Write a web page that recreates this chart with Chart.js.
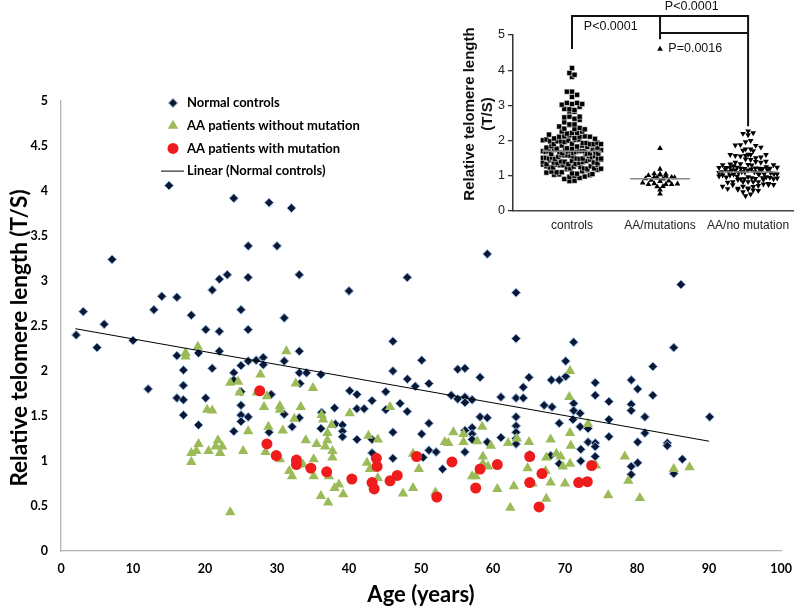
<!DOCTYPE html>
<html>
<head>
<meta charset="utf-8">
<script src="https://cdn.jsdelivr.net/npm/chart.js"></script>
<style>
  html, body { margin: 0; padding: 0; background: #fff; }
  #wrap { position: relative; width: 810px; height: 608px; }
  #main { position: absolute; left: 0; top: 0; }
  #inset { position: absolute; left: 430px; top: 0; }
</style>
</head>
<body>
<div id="wrap">
  <canvas id="main" width="810" height="608"></canvas>
  <canvas id="inset" width="380" height="240"></canvas>
</div>
<script>
// ---- data ----
const controlAge = [2.1,3.1,5.0,6.0,7.1,10.0,12.1,12.9,14.0,15.0,16.1,16.1,16.1,17.0,17.0,17.0,17.0,18.1,19.1,19.1,
  20.1,20.1,21.0,21.0,22.0,22.0,22.0,23.1,24.0,24.0,24.0,24.0,25.0,25.0,25.0,25.0,25.0,25.0,26.0,26.0,
  26.0,26.0,26.0,27.1,28.1,28.1,28.9,28.9,29.2,30.0,31.0,31.0,31.0,32.0,32.1,33.1,33.1,33.1,33.2,33.1,
  34.1,36.1,36.2,36.1,38.0,38.1,39.1,39.1,39.1,40.0,40.1,41.1,41.1,41.1,42.1,43.2,43.2,43.2,45.1,45.1,
  46.1,46.1,46.1,46.1,47.1,48.1,48.1,48.1,49.2,50.1,50.1,50.3,51.1,51.1,51.1,52.1,53.0,54.2,55.1,55.1,
  56.1,56.1,56.1,56.1,56.1,57.1,57.1,57.1,57.1,58.2,58.2,59.2,59.2,59.2,61.1,61.1,63.2,63.2,63.2,63.2,
  63.2,63.2,63.2,63.2,64.2,64.2,65.0,65.1,67.1,68.1,68.2,68.0,69.2,69.2,69.2,70.1,70.1,71.2,71.2,71.2,
  71.1,72.1,72.1,72.2,72.2,73.2,73.2,74.2,74.2,74.2,74.2,74.2,76.1,76.1,76.1,79.2,79.2,79.2,79.2,79.2,
  80.1,80.1,80.1,81.1,81.1,82.2,82.2,84.2,84.2,85.1,85.1,86.1,86.3,90.1];
const controlTL = [2.40,2.66,2.26,2.52,3.24,2.34,1.80,2.68,2.83,4.06,2.82,2.17,1.70,2.01,1.84,1.68,1.51,2.62,2.20,1.40,
  2.46,1.70,2.90,2.03,3.02,2.44,2.22,3.07,3.92,1.98,1.90,1.33,2.68,2.06,1.77,1.62,1.51,1.44,3.39,3.04,
  2.46,2.11,1.49,2.12,2.15,2.07,3.87,1.32,1.74,3.39,2.59,2.11,1.52,3.81,1.38,3.07,2.22,1.98,1.86,1.48,
  1.98,1.96,1.54,1.36,1.59,1.41,1.40,1.33,1.27,2.89,1.78,1.74,1.58,1.24,1.58,1.67,1.24,1.09,1.77,1.57,
  2.33,2.00,1.32,1.03,1.64,3.04,1.91,1.55,1.83,2.12,1.30,1.04,1.86,1.42,1.12,1.10,0.91,1.73,2.02,1.69,
  2.03,1.71,1.65,1.34,1.10,1.68,1.37,1.30,1.24,1.93,1.49,3.30,1.48,1.21,1.71,1.26,2.87,2.36,1.70,1.49,
  1.39,1.32,1.25,1.19,1.82,1.70,1.93,1.07,1.62,1.90,1.60,1.06,1.90,1.42,0.97,2.11,1.94,2.32,1.64,1.56,
  1.46,1.53,1.38,1.13,1.00,1.36,1.21,1.87,1.73,1.20,1.16,1.05,1.66,1.46,1.27,1.90,1.63,1.56,0.94,0.85,
  1.80,1.21,0.98,1.49,1.31,2.05,1.73,1.20,1.17,2.26,0.86,2.96,1.02,1.49];

const noMutAge = [17.3,17.3,19.0,23.5,24.6,24.8,27.7,27.2,28.6,28.2,20.3,21.0,26.0,28.8,18.1,18.8,19.1,18.1,20.5,21.8,
  21.5,22.4,22.1,25.3,28.4,23.5,31.3,32.6,35.0,30.4,30.4,33.3,30.8,32.4,36.2,36.4,37.6,37.0,37.0,36.7,
  40.1,45.7,34.0,35.5,30.4,33.6,35.1,37.7,37.7,42.7,44.0,42.5,42.9,44.0,32.1,31.7,35.1,37.2,36.1,37.1,
  38.0,39.2,38.6,48.9,49.7,47.5,48.9,52.0,53.3,53.8,54.5,55.9,58.5,57.8,55.9,59.7,58.6,58.6,59.3,57.1,
  57.6,60.6,62.4,62.9,64.8,62.1,63.3,65.0,70.7,70.6,73.2,70.7,68.0,70.8,67.4,68.8,69.4,69.7,70.7,67.3,
  68.0,70.0,74.3,78.3,78.8,76.0,85.1,87.3,80.4,65.5,67.4];
const noMutTL = [2.20,2.16,2.27,1.87,1.88,1.76,1.96,1.76,1.72,1.60,1.57,1.56,1.33,1.38,1.09,1.11,1.19,0.99,1.11,1.23,
  1.16,1.16,1.09,1.11,1.10,0.43,2.22,1.86,1.81,1.61,1.57,1.60,1.34,1.47,1.51,1.46,1.40,1.31,1.23,1.16,
  1.53,1.60,1.23,1.19,1.02,0.96,1.02,1.11,1.04,1.28,1.24,0.98,0.91,0.81,0.83,0.89,0.83,0.83,0.61,0.54,
  0.70,0.63,0.74,1.08,0.91,0.64,0.70,0.65,1.21,1.20,1.32,1.30,1.38,1.22,1.21,1.17,1.05,0.97,0.94,0.83,
  0.83,0.69,0.48,0.72,0.92,1.20,1.25,1.21,2.00,1.71,1.41,1.31,1.24,1.17,1.04,1.08,1.05,0.94,0.97,0.89,
  0.76,0.75,0.95,1.05,0.78,0.62,0.91,0.93,0.59,0.75,0.58];

const mutAge = [27.6,28.6,29.9,32.7,32.7,34.7,36.9,40.4,43.2,43.5,43.8,43.9,45.7,46.7,49.4,52.2,54.3,58.2,57.6,60.6,
  65.1,65.1,66.8,73.7,71.9,73.1,66.4];
const mutTL = [1.78,1.19,1.06,1.01,0.96,0.92,0.88,0.80,0.76,0.69,1.03,0.94,0.78,0.84,1.05,0.60,0.99,0.91,0.70,0.96,
  1.05,0.76,0.86,0.95,0.76,0.77,0.49];
// one mutation carrier appears only in the inset (no age given)
const mutExtraTL = [4.6];

// Excel linear trendline of the controls, read at its two ends
const trendAge = [2, 90];
const trendTL = [2.47, 1.22];

const xTicks = { min: 0, max: 100, step: 10 };
const yTicks = { min: 0, max: 5, step: 0.5 };

// inset
const groupNames = ['controls', 'AA/mutations', 'AA/no mutation'];
const pTexts = ['P<0.0001', 'P<0.0001', 'P=0.0016'];

// ---------------------------------------------------------------

const toPts = (xs, ys) => xs.map((x, i) => ({ x: x, y: ys[i] }));

const legendItems = [
  { text: 'Normal controls', kind: 'diamond' },
  { text: 'AA patients without mutation', kind: 'triangle' },
  { text: 'AA patients with mutation', kind: 'circle' },
  { text: 'Linear (Normal controls)', kind: 'line' }
];

const NAVY = '#0b1833';
const GREEN = '#9bbb59';
const RED = '#ee1c1c';

const mainLegend = {
  id: 'mainLegend',
  afterDraw(chart) {
    const ctx = chart.ctx;
    ctx.save();
    ctx.font = 'bold 13px Lato';
    ctx.textBaseline = 'middle';
    legendItems.forEach((it, i) => {
      const y = 103 + i * 22.7;
      const x = 173;
      ctx.beginPath();
      if (it.kind === 'diamond') {
        ctx.moveTo(x, y - 4.5); ctx.lineTo(x + 4.5, y); ctx.lineTo(x, y + 4.5); ctx.lineTo(x - 4.5, y); ctx.closePath();
        ctx.fillStyle = NAVY; ctx.fill();
        ctx.strokeStyle = '#8fb3e0'; ctx.lineWidth = 1; ctx.stroke();
      } else if (it.kind === 'triangle') {
        ctx.moveTo(x, y - 6); ctx.lineTo(x + 5.2, y + 3); ctx.lineTo(x - 5.2, y + 3); ctx.closePath();
        ctx.fillStyle = GREEN; ctx.fill();
      } else if (it.kind === 'circle') {
        ctx.arc(x, y, 5.5, 0, Math.PI * 2);
        ctx.fillStyle = RED; ctx.fill();
      } else {
        ctx.moveTo(161, y); ctx.lineTo(184, y);
        ctx.strokeStyle = '#000'; ctx.lineWidth = 1; ctx.stroke();
      }
      ctx.fillStyle = '#000';
      ctx.fillText(it.text, 187, y);
    });
    // y axis title, centred a little below the middle of the axis as in the figure
    ctx.translate(20, 338);
    ctx.rotate(-Math.PI / 2);
    ctx.font = 'bold 22.5px Lato';
    ctx.textAlign = 'center';
    ctx.fillText('Relative telomere length (T/S)', 0, 0);
    ctx.restore();
  }
};

new Chart(document.getElementById('main'), {
  type: 'scatter',
  data: {
    datasets: [
      {
        label: 'Linear (Normal controls)',
        data: toPts(trendAge, trendTL),
        showLine: true, borderColor: '#000', borderWidth: 1, pointRadius: 0, order: 0
      },
      {
        label: 'AA patients with mutation',
        data: toPts(mutAge, mutTL),
        pointStyle: 'circle', pointRadius: 5.5, backgroundColor: RED, borderColor: RED, borderWidth: 0, order: 1
      },
      {
        label: 'AA patients without mutation',
        data: toPts(noMutAge, noMutTL),
        pointStyle: 'triangle', pointRadius: 6, backgroundColor: GREEN, borderColor: GREEN, borderWidth: 0, order: 2
      },
      {
        label: 'Normal controls',
        data: toPts(controlAge, controlTL),
        pointStyle: 'rectRot', pointRadius: 4.5, backgroundColor: NAVY, borderColor: '#8fb3e0', borderWidth: 1, order: 3
      }
    ]
  },
  options: {
    responsive: false,
    animation: false,
    layout: { padding: { top: 101, right: 29, left: 0, bottom: 0 } },
    plugins: { legend: { display: false }, tooltip: { enabled: false } },
    scales: {
      x: {
        type: 'linear', min: xTicks.min, max: xTicks.max,
        afterFit: s => { s.height = 57; },
        grid: { display: false, drawTicks: false },
        border: { display: true, color: '#b3b3b3', width: 1.3 },
        ticks: { stepSize: xTicks.step, padding: 10, color: '#000', font: { family: 'Lato', weight: 'bold', size: 12.5 } },
        title: { display: true, text: 'Age (years)', color: '#000', padding: { top: 0, bottom: 0 },
                 font: { family: 'Lato', weight: 'bold', size: 22 } }
      },
      y: {
        type: 'linear', min: yTicks.min, max: yTicks.max,
        afterFit: s => { s.width = 61; },
        grid: { display: false, drawTicks: false },
        border: { display: true, color: '#b3b3b3', width: 1.3 },
        ticks: { stepSize: yTicks.step, padding: 13, color: '#000',
                 font: { family: 'Lato', weight: 'bold', size: 12.5 },
                 callback: v => String(+v.toFixed(1)) }
      }
    }
  },
  plugins: [mainLegend]
});

// ---- inset dot plot ----
// scatter-dot layout: points of similar value are spread sideways around the group centre
function swarm(values, center, binSize, step, maxHalf) {
  const bins = {};
  values.forEach(v => {
    const b = Math.round(v / binSize);
    (bins[b] = bins[b] || []).push(v);
  });
  const pts = [];
  Object.keys(bins).forEach(k => {
    const list = bins[k];
    const n = list.length;
    const dx = n > 1 ? Math.min(step, 2 * maxHalf / (n - 1)) : 0;
    list.forEach((v, j) => pts.push({ x: center + (j - (n - 1) / 2) * dx, y: v }));
  });
  return pts;
}
function median(arr) {
  const s = arr.slice().sort((a, b) => a - b);
  const m = Math.floor(s.length / 2);
  return s.length % 2 ? s[m] : (s[m - 1] + s[m]) / 2;
}

const insetGroups = [controlTL, mutTL.concat(mutExtraTL), noMutTL];
const medLine = (vals, c) => { const m = median(vals); return [{ x: c - 0.34, y: m }, { x: c + 0.34, y: m }]; };

// significance brackets, in data units of the inset
const brackets = [
  [{ x: 1, y: 4.6 }, { x: 1, y: 5.54 }, { x: 3, y: 5.54 }, { x: 3, y: 2.41 }],
  [{ x: 2, y: 5.54 }, { x: 2, y: 4.88 }],
  [{ x: 2, y: 5.06 }, { x: 3, y: 5.06 }]
];
const pPos = [{ x: 2.36, y: 5.8 }, { x: 1.44, y: 5.23 }, { x: 2.4, y: 4.62 }];

const insetText = {
  id: 'insetText',
  afterDraw(chart) {
    const ctx = chart.ctx;
    const xs = chart.scales.x, ys = chart.scales.y;
    ctx.save();
    ctx.font = '12.5px "Liberation Sans"';
    ctx.fillStyle = '#111';
    ctx.textAlign = 'center';
    ctx.textBaseline = 'middle';
    pTexts.forEach((t, i) => ctx.fillText(t, xs.getPixelForValue(pPos[i].x), ys.getPixelForValue(pPos[i].y)));
    // two-line y title
    ctx.font = 'bold 15px "Liberation Sans"';
    ctx.translate(40, 114);
    ctx.rotate(-Math.PI / 2);
    ctx.fillText('Relative telomere length', 0, 0);
    ctx.fillText('(T/S)', 0, 18);
    ctx.restore();
  }
};

const insetDatasets = [
  { data: swarm(insetGroups[0], 1, 0.14, 0.058, 0.33), pointStyle: 'rect', pointRadius: 3.6,
    backgroundColor: '#000', borderColor: '#fff', borderWidth: 0.5 },
  { data: swarm(insetGroups[1], 2, 0.1, 0.066, 0.33), pointStyle: 'triangle', pointRadius: 3.3,
    backgroundColor: '#000', borderColor: '#000', borderWidth: 0 },
  { data: swarm(insetGroups[2], 3, 0.14, 0.058, 0.33), pointStyle: 'triangle', rotation: 180, pointRadius: 3.3,
    backgroundColor: '#000', borderColor: '#000', borderWidth: 0 }
];
insetGroups.forEach((g, i) => insetDatasets.push({
  data: medLine(g, i + 1), showLine: true, pointRadius: 0, borderColor: '#8a8a8a', borderWidth: 1.5, order: -1
}));
brackets.forEach(b => insetDatasets.push({
  data: b, showLine: true, pointRadius: 0, borderColor: '#111', borderWidth: 2, clip: false, order: -2
}));

new Chart(document.getElementById('inset'), {
  type: 'scatter',
  data: { datasets: insetDatasets },
  options: {
    responsive: false,
    animation: false,
    layout: { padding: { top: 35, right: 17, left: 0, bottom: 0 } },
    plugins: { legend: { display: false }, tooltip: { enabled: false } },
    scales: {
      x: {
        type: 'linear', min: 0.33, max: 3.51,
        afterFit: s => { s.height = 29; },
        afterBuildTicks: s => { s.ticks = [1, 2, 3].map(v => ({ value: v })); },
        grid: { display: false, drawTicks: false },
        border: { display: true, color: '#444', width: 1.5 },
        ticks: { padding: 7, color: '#222', autoSkip: false, maxRotation: 0,
                 font: { family: 'Liberation Sans', size: 12 },
                 callback: v => groupNames[Math.round(v) - 1] }
      },
      y: {
        type: 'linear', min: 0, max: 5,
        afterFit: s => { s.width = 83; },
        grid: { drawOnChartArea: false, drawTicks: true, tickLength: 5, color: '#333', lineWidth: 1.3 },
        border: { display: true, color: '#333', width: 1.5 },
        ticks: { stepSize: 1, padding: 3, color: '#222', font: { family: 'Liberation Sans', size: 12.5 } }
      }
    }
  },
  plugins: [insetText]
});
</script>
</body>
</html>
